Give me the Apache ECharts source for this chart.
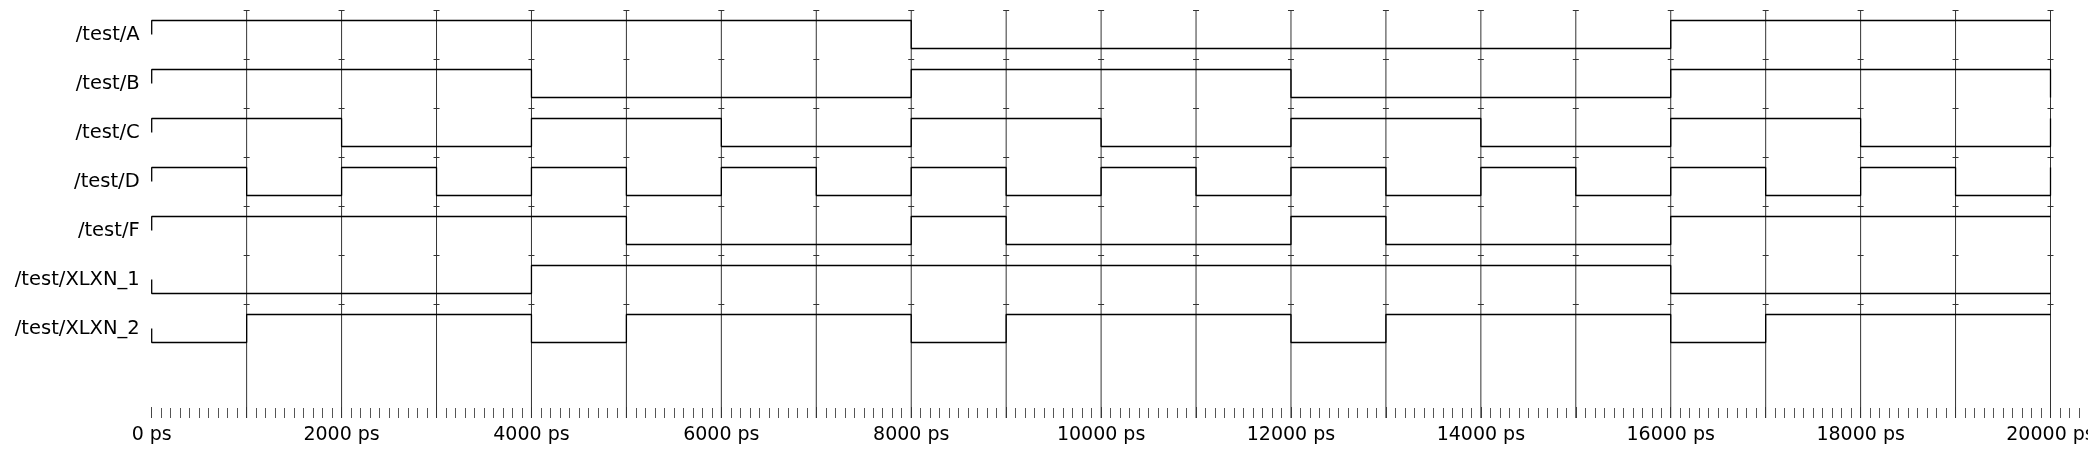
<!DOCTYPE html>
<html><head><meta charset="utf-8">
<script src="https://cdn.jsdelivr.net/npm/echarts@6/dist/echarts.min.js"></script>
<style>html,body{margin:0;padding:0;background:#fff;} #c{width:2088px;height:460px;}</style>
</head><body><div id="c"></div>
<script>
// ---------- data ----------
const signalNames = ['/test/A', '/test/B', '/test/C', '/test/D', '/test/F', '/test/XLXN_1', '/test/XLXN_2'];
// each signal: list of [time in ps, logic level]
const sigA  = [[0,1],[8000,0],[16000,1]];
const sigB  = [[0,1],[4000,0],[8000,1],[12000,0],[16000,1],[20000,0]];
const sigC  = [[0,1],[2000,0],[4000,1],[6000,0],[8000,1],[10000,0],[12000,1],[14000,0],[16000,1],[18000,0],[20000,1]];
const sigD  = [[0,1],[1000,0],[2000,1],[3000,0],[4000,1],[5000,0],[6000,1],[7000,0],[8000,1],[9000,0],[10000,1],[11000,0],[12000,1],[13000,0],[14000,1],[15000,0],[16000,1],[17000,0],[18000,1],[19000,0],[20000,1]];
const sigF  = [[0,1],[5000,0],[8000,1],[9000,0],[12000,1],[13000,0],[16000,1]];
const sigX1 = [[0,0],[4000,1],[16000,0]];
const sigX2 = [[0,0],[1000,1],[4000,0],[5000,1],[8000,0],[9000,1],[12000,0],[13000,1],[16000,0],[17000,1]];
const signals = [sigA, sigB, sigC, sigD, sigF, sigX1, sigX2];
const gridTimes = [1000,2000,3000,4000,5000,6000,7000,8000,9000,10000,11000,12000,13000,14000,15000,16000,17000,18000,19000,20000];
const tickLabels = [0,2000,4000,6000,8000,10000,12000,14000,16000,18000,20000];
const endTime = 20000;
const overflowMax = 20400;   // ruler continues past the end of the trace
const timeUnit = 'ps';

// ---------- layout ----------
const X0 = 151.7, PX_PER_1000 = 94.94;
const TOP = 11, HEIGHT = 407;
const PITCH = 49, HIGH_OFF = 9.5, SWING = 28;
const Y_MAX = HEIGHT;
const FONT = 'DejaVu Sans';
const MAIN_W = PX_PER_1000 * endTime / 1000;

function yOf(row, level) { return row * PITCH + HIGH_OFF + (1 - level) * SWING; }
function midOf(row) { return row * PITCH + HIGH_OFF + SWING / 2; }

function tracePoints(row, changes) {
  const pts = [[0, midOf(row)]];
  let prev = null;
  changes.forEach(([t, v]) => {
    if (prev !== null) pts.push([t, yOf(row, prev)]);
    pts.push([t, yOf(row, v)]);
    prev = v;
  });
  const lastT = changes[changes.length - 1][0];
  if (lastT < endTime) pts.push([endTime, yOf(row, prev)]);
  return pts;
}

const series = [{
  type: 'custom',
  silent: true,
  z: 1,
  xAxisIndex: 0, yAxisIndex: 0,
  encode: { x: 0, y: 1 },
  data: gridTimes.map(t => [t, 0]),
  renderItem: function (params, api) {
    const x = api.value(0);
    const a = api.coord([x, 0]), b = api.coord([x, Y_MAX]);
    const children = [{ type: 'line', shape: { x1: a[0], y1: a[1], x2: b[0], y2: b[1] }, style: { stroke: '#333', lineWidth: 1 } }];
    for (let r = 0; r < signalNames.length; r++) {
      const p = api.coord([x, r * PITCH]);
      children.push({ type: 'line', shape: { x1: p[0] - 3, y1: p[1] - 0.5, x2: p[0] + 3, y2: p[1] - 0.5 }, style: { stroke: '#333', lineWidth: 1 } });
    }
    return { type: 'group', children };
  }
}];

signals.forEach((sig, i) => {
  series.push({
    type: 'line',
    name: signalNames[i],
    xAxisIndex: 0, yAxisIndex: 0,
    data: tracePoints(i, sig),
    showSymbol: false,
    silent: true,
    z: 3,
    lineStyle: { color: '#000', width: 1.3 }
  });
});

const tickStyle = { show: true, inside: true, length: 11, lineStyle: { color: '#444', width: 1 } };
const minorStyle = { show: true, splitNumber: 10, length: 10, lineStyle: { color: '#555', width: 1 } };

const chart = echarts.init(document.getElementById('c'), null, { renderer: 'canvas' });
chart.setOption({
  animation: false,
  backgroundColor: '#fff',
  grid: [
    { left: X0, top: TOP, width: MAIN_W, height: HEIGHT, containLabel: false, outerBoundsMode: 'none' },
    { left: X0 + MAIN_W, top: TOP, width: PX_PER_1000 * (overflowMax - endTime) / 1000, height: HEIGHT, containLabel: false, outerBoundsMode: 'none' }
  ],
  xAxis: [{
    gridIndex: 0, type: 'value', min: 0, max: endTime, interval: 1000,
    axisLine: { show: false, onZero: false },
    axisTick: tickStyle,
    minorTick: minorStyle,
    splitLine: { show: false },
    axisLabel: {
      margin: 8, fontSize: 19, fontFamily: FONT, color: '#000',
      formatter: v => (tickLabels.indexOf(v) >= 0 ? v + ' ' + timeUnit : '')
    }
  }, {
    gridIndex: 1, type: 'value', min: endTime, max: overflowMax, interval: 100,
    axisLine: { show: false, onZero: false },
    axisTick: { show: true, inside: true, length: 10, lineStyle: { color: '#555', width: 1 } },
    splitLine: { show: false },
    axisLabel: { show: false }
  }],
  yAxis: [{
    gridIndex: 0, type: 'value', inverse: true, min: 0, max: Y_MAX,
    axisLine: { show: false }, axisTick: { show: false }, splitLine: { show: false },
    axisLabel: {
      customValues: signalNames.map((n, i) => midOf(i)),
      margin: 12, fontSize: 19.5, fontFamily: FONT, color: '#000',
      formatter: v => signalNames[Math.round((v - HIGH_OFF - SWING / 2) / PITCH)] || ''
    }
  }, {
    gridIndex: 1, type: 'value', inverse: true, min: 0, max: Y_MAX, show: false
  }],
  series: series
});
</script>
</body></html>
